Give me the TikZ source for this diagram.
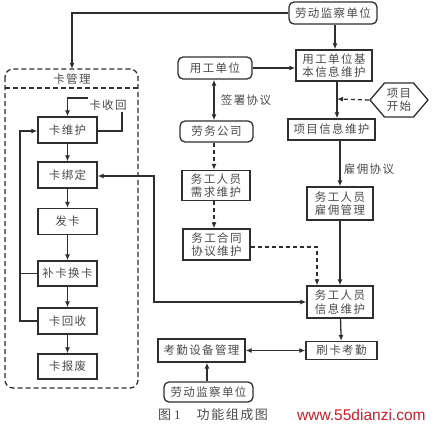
\documentclass[tikz,border=0pt]{standalone}
\usepackage{fontspec}
\setmainfont[LetterSpace=12]{Noto Sans CJK SC}
\newfontfamily\wmfont{Liberation Sans}
\newfontfamily\numfont{Liberation Serif}
\usetikzlibrary{arrows.meta,shapes.geometric}
\definecolor{ln}{HTML}{2E2E2E}
\definecolor{tx}{HTML}{4A4A4A}
\tikzset{
  box/.style={draw=ln,line width=1.3pt,rectangle,inner sep=0pt,align=center,text=tx,font=\fontsize{11.5}{13.5}\selectfont,text width=#1},
  rbox/.style={box=#1,rounded corners=5pt},
  arr/.style={draw=ln,line width=1.3pt,-{Latex[length=6pt,width=5pt]}},
  darr/.style={draw=ln,line width=1.3pt,{Latex[length=6pt,width=5pt]}-{Latex[length=6pt,width=5pt]}},
  dash arr/.style={draw=ln,line width=1.3pt,dashed,dash pattern=on 4pt off 3pt,-{Latex[length=6pt,width=5pt]}},
  plain/.style={draw=ln,line width=1.3pt},
  lbl/.style={text=tx,font=\fontsize{11.5}{13.5}\selectfont,inner sep=0pt}
}
\begin{document}
\begin{tikzpicture}[x=1pt,y=-1pt]
\useasboundingbox (0,0) rectangle (433,428);
% dashed group
\draw[draw=ln,line width=1.3pt,dash pattern=on 5pt off 3pt,rounded corners=8pt] (5,69) rectangle (138,388);
\draw[draw=ln,line width=1.3pt,dash pattern=on 5pt off 3pt] (5,88) -- (138,88);
\node[lbl] (kgl) at (72,79) {卡管理};
% left column
\node[box=59pt,minimum width=59pt,minimum height=26pt] (kwh) at (67.5,130) {卡维护};
\node[box=59pt,minimum width=59pt,minimum height=26pt] (kbd) at (67.5,175) {卡绑定};
\node[box=59pt,minimum width=59pt,minimum height=26pt] (fk) at (67.5,221.5) {发卡};
\node[box=59pt,minimum width=59pt,minimum height=25pt] (bk) at (67.5,273.5) {补卡换卡};
\node[box=59pt,minimum width=59pt,minimum height=26pt] (khs) at (67.5,321) {卡回收};
\node[box=59pt,minimum width=59pt,minimum height=25pt] (kbf) at (67.5,366.5) {卡报废};
\node[lbl] (ksh) at (108,105) {卡收回};
\coordinate (c1) at (122,112);
\coordinate (c2) at (88,98);
\draw[plain] (kwh.east |- 0,131) -- (122,131) -- (c1);
\draw[arr] (c2) -- (67.5,98) -- (kwh.north);
\draw[arr] (kwh) -- (kbd);
\draw[arr] (kbd) -- (fk);
\draw[arr] (fk) -- (bk);
\draw[arr] (bk) -- (khs);
\draw[arr] (khs) -- (kbf);
\draw[arr] (khs.west) -- (20,321) -- (20,131) -- (kwh.west |- 0,131);
\draw[plain] (bk.west) -- (20,273.5);
% top
\node[rbox=88pt,minimum width=88pt,minimum height=22pt] (jc1) at (333,13) {劳动监察单位};
\draw[arr] (jc1.west) -- (72,13) -- (72,69);
\node[rbox=74pt,minimum width=74pt,minimum height=22pt] (yg) at (215,68) {用工单位};
\node[rbox=73pt,minimum width=73pt,minimum height=21pt] (lw) at (216.5,131.5) {劳务公司};
\node[box=68pt,minimum width=68pt,minimum height=30pt] (xq) at (216,185.5) {务工人员\\需求维护};
\node[box=67pt,minimum width=67pt,minimum height=31pt] (ht) at (216.5,244.5) {务工合同\\协议维护};
\draw[darr] (yg.south -| 214,0) -- (lw.north -| 214,0);
\node[lbl] (qs) at (246,100) {签署协议};
\draw[dash arr] (lw.south -| 214,0) -- (xq.north -| 214,0);
\draw[dash arr] (xq.south -| 214,0) -- (ht.north -| 214,0);
% right column
\node[box=76pt,minimum width=76pt,minimum height=31pt] (yjb) at (334,65.5) {用工单位基\\本信息维护};
\node[box=87pt,minimum width=87pt,minimum height=21pt] (xm) at (331.5,129.5) {项目信息维护};
\node[draw=ln,line width=1.3pt,regular polygon,regular polygon sides=6,shape border rotate=0,inner sep=0pt,minimum size=40pt,xscale=1.45,yscale=0.98] (hex) at (399,100) {};
\node[lbl,align=center] at (hex) {项目\\开始};
\node[box=66pt,minimum width=66pt,minimum height=33pt] (gy) at (340,203.5) {务工人员\\雇佣管理};
\node[box=66pt,minimum width=66pt,minimum height=32pt] (xx) at (340,302) {务工人员\\信息维护};
\node[box=71pt,minimum width=71pt,minimum height=18pt] (sk) at (341.5,350.5) {刷卡考勤};
\node[box=87pt,minimum width=87pt,minimum height=23pt] (kq) at (201.5,350.5) {考勤设备管理};
\node[rbox=89pt,minimum width=89pt,minimum height=20pt] (jc2) at (208.5,392) {劳动监察单位};
\draw[arr] (jc1.south -| 335,0) -- (yjb.north -| 335,0);
\draw[arr] (yg.east) -- (yjb.west |- yg.east);
\draw[arr] (yjb.south -| 337,0) -- (xm.north -| 337,0);
\coordinate (hj) at (337,99);
\draw[dash arr] (hex.west) -- (hj);
\draw[arr] (xm.south -| 340,0) -- (gy.north);
\node[lbl] (gyxy) at (369,169) {雇佣协议};
\draw[arr] (gy) -- (xx);
\draw[dash arr] (ht.east |- 0,247) -- (317,247) -- (xx.north -| 317,0);
\draw[arr] (xx) -- (sk);
\draw[darr] (kq.east) -- (sk.west |- kq.east);
\draw[arr] (jc2.north -| 207,0) -- (kq.south -| 207,0);
\draw[darr] (kbd.east |- 0,176) -- (154,176) -- (154,302) -- (xx.west);
% caption
\node[lbl,font=\fontsize{13}{14}\selectfont,anchor=west] (cap) at (158,415) {图\hspace*{3pt}{\numfont 1}\hspace*{16pt}功能组成图};
\node[inner sep=0pt,text={rgb,255:red,200;green,30;blue,40},font=\wmfont\fontsize{15.5}{17}\selectfont,anchor=west] (wm) at (297,415) {www.55dianzi.com};
\end{tikzpicture}
\end{document}
